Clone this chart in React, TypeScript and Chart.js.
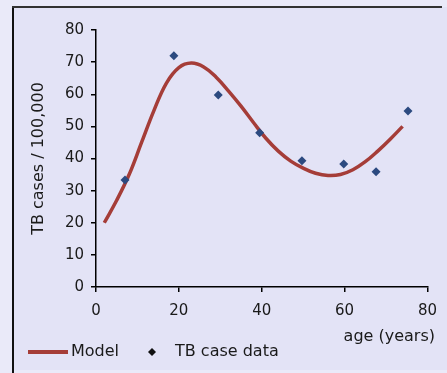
import React, { useEffect, useRef } from "react";
import { Chart, registerables } from "chart.js";

Chart.register(...registerables);

const modelAges = [2, 5, 8, 11, 14, 17, 20, 23, 26, 29, 32, 35, 38, 41, 44, 47, 50, 53, 56, 59, 62, 65, 68, 71, 74];
const modelCases = [20, 27, 35, 45, 55, 63.5, 68.3, 69.7, 68.5, 65.3, 61, 56.3, 51.2, 46.3, 42.3, 39.2, 37, 35.4, 34.7, 35, 36.5, 39, 42.3, 46, 50];

const dataAges = [7, 18.8, 29.5, 39.5, 49.7, 59.8, 67.6, 75.3];
const dataCases = [33.3, 72, 59.8, 48, 39.3, 38.3, 35.9, 54.8];

const xTicks = [0, 20, 40, 60, 80];
const yTicks = [0, 10, 20, 30, 40, 50, 60, 70, 80];

const xTitle = "age (years)";
const yTitle = "TB cases / 100,000";
const legendLabels = ["Model", "TB case data"];

const FONT = "'DejaVu Sans', sans-serif";
const LINE_COLOR = "#a53d38";
const POINT_COLOR = "#2c4a80";

const decor = {
  id: "decor",
  beforeDraw(chart: any) {
    const ctx = chart.ctx;
    ctx.save();
    ctx.fillStyle = "#eaeaf9";
    ctx.fillRect(0, 0, chart.width, chart.height);
    ctx.fillStyle = "#e3e3f6";
    ctx.fillRect(13, 7, chart.width - 13, 363);
    ctx.fillStyle = "#111";
    ctx.fillRect(12, 6, 2, chart.height - 6);
    ctx.fillStyle = "#333";
    ctx.fillRect(12, 6, 430, 2);
    ctx.restore();
  },
  afterDraw(chart: any) {
    const ctx = chart.ctx;
    ctx.save();
    ctx.font = "16px " + FONT;
    ctx.fillStyle = "#1a1a1a";
    ctx.textBaseline = "middle";
    ctx.textAlign = "right";
    ctx.fillText(xTitle, 435, 337);
    // legend
    const ly = 352;
    ctx.strokeStyle = LINE_COLOR;
    ctx.lineWidth = 4;
    ctx.beginPath();
    ctx.moveTo(28, ly);
    ctx.lineTo(68, ly);
    ctx.stroke();
    ctx.textAlign = "left";
    ctx.fillText(legendLabels[0], 71, ly);
    ctx.fillStyle = "#111";
    ctx.beginPath();
    ctx.moveTo(152, ly - 4);
    ctx.lineTo(156, ly);
    ctx.lineTo(152, ly + 4);
    ctx.lineTo(148, ly);
    ctx.closePath();
    ctx.fill();
    ctx.fillStyle = "#1a1a1a";
    ctx.fillText(legendLabels[1], 175, ly);
    ctx.restore();
  },
};

export default function App() {
  const ref = useRef<HTMLCanvasElement>(null);
  useEffect(() => {
    if (!ref.current) return;
    const chart = new Chart(ref.current, {
      type: "scatter",
      data: {
        datasets: [
          {
            label: legendLabels[0],
            data: modelAges.map((x, i) => ({ x, y: modelCases[i] })),
            showLine: true,
            borderColor: LINE_COLOR,
            borderWidth: 3.5,
            pointRadius: 0,
            tension: 0.4,
            order: 2,
          },
          {
            label: legendLabels[1],
            data: dataAges.map((x, i) => ({ x, y: dataCases[i] })),
            showLine: false,
            pointStyle: "rectRot",
            pointRadius: 4.5,
            backgroundColor: POINT_COLOR,
            borderColor: POINT_COLOR,
            borderWidth: 0,
            order: 1,
          },
        ],
      },
      options: {
        animation: false,
        responsive: false,
        maintainAspectRatio: false,
        layout: { padding: { left: 14, top: 30, right: 19, bottom: 0 } },
        plugins: { legend: { display: false }, tooltip: { enabled: false } },
        scales: {
          x: {
            type: "linear",
            min: 0,
            max: 80,
            afterBuildTicks: (s: any) => {
              s.ticks = xTicks.map((v) => ({ value: v }));
            },
            afterFit: (s: any) => {
              s.height = 86;
            },
            border: { color: "#000", width: 1.5 },
            grid: { drawOnChartArea: false, tickLength: 5, color: "#000", tickColor: "#000", lineWidth: 1.5 },
            ticks: { padding: 10, color: "#1a1a1a", font: { family: FONT, size: 15 }, maxRotation: 0 },
          },
          y: {
            type: "linear",
            min: 0,
            max: 80,
            afterBuildTicks: (s: any) => {
              s.ticks = yTicks.map((v) => ({ value: v }));
            },
            afterFit: (s: any) => {
              s.width = 82;
            },
            border: { color: "#000", width: 1.5 },
            grid: { drawOnChartArea: false, tickLength: 5, color: "#000", tickColor: "#000", lineWidth: 1.5 },
            ticks: { padding: 7, color: "#1a1a1a", font: { family: FONT, size: 15 } },
            title: {
              display: true,
              text: yTitle,
              color: "#1a1a1a",
              font: { family: FONT, size: 16 },
              padding: { top: 15, bottom: 0 },
            },
          },
        },
      },
      plugins: [decor],
    });
    return () => chart.destroy();
  }, []);
  return (
    <div style={{ position: "fixed", left: 0, top: 0, width: 447, height: 373 }}>
      <canvas ref={ref} width={447} height={373} style={{ width: 447, height: 373, display: "block" }} />
    </div>
  );
}
